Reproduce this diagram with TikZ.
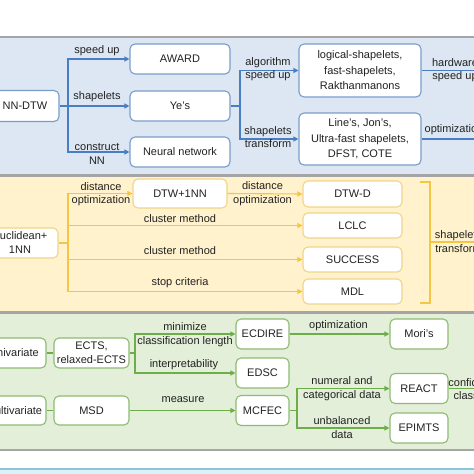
\documentclass[tikz,border=0pt]{standalone}
\usepackage{fontspec}
\setmainfont{Liberation Sans}
\usetikzlibrary{arrows.meta}
\definecolor{bluefill}{HTML}{DCE7F3}
\definecolor{blueline}{HTML}{4A7EC2}
\definecolor{bluebox}{HTML}{7A9CCB}
\definecolor{yellowfill}{HTML}{FFF2CC}
\definecolor{yellowline}{HTML}{F3C646}
\definecolor{yellowbox}{HTML}{F0D488}
\definecolor{greenfill}{HTML}{E3EFD9}
\definecolor{greenline}{HTML}{6DAE4A}
\definecolor{greenbox}{HTML}{8DBB72}
\definecolor{panelgray}{HTML}{A5A5A5}
\definecolor{stripfill}{HTML}{DDF2F8}
\definecolor{stripline}{HTML}{8CC6D6}
\definecolor{textc}{HTML}{222222}
\begin{document}
\begin{tikzpicture}[x=1pt,y=-1pt,
  box/.style={draw, fill=white, rounded corners=5pt, line width=1.1pt, align=center, inner sep=1pt, font=\fontsize{11}{15.5}\selectfont, text=textc},
  bbox/.style={box, draw=bluebox},
  ybox/.style={box, draw=yellowbox},
  gbox/.style={box, draw=greenbox},
  lbl/.style={align=center, inner sep=0pt, font=\fontsize{11}{13.5}\selectfont, text=textc},
  tip/.style={-{Triangle[length=5pt,width=5pt]}},
  bln/.style={draw=blueline, line width=1.1pt},
  yln/.style={draw=yellowline, line width=1.1pt},
  gln/.style={draw=greenline, line width=1.1pt},
  panel/.style={draw=panelgray, line width=1.2pt}
]
\useasboundingbox (0,0) rectangle (474,474);
\clip (0,0) rectangle (474,474);
\fill[white] (0,0) rectangle (474,474);

% panels
\path[panel, fill=bluefill] (-10,37) rectangle (484,175);
\path[panel, fill=yellowfill] (-10,176) rectangle (484,312);
\path[panel, fill=greenfill] (-10,313) rectangle (484,450);
\path[draw=stripline, line width=1.2pt, fill=stripfill] (-10,469) rectangle (484,490);

% ---------- blue panel ----------
\node[bbox, minimum width=68pt, minimum height=31pt] (nndtw) at (25,106) {NN-DTW};
\node[bbox, minimum width=100pt, minimum height=30pt] (award) at (180,59) {AWARD};
\node[bbox, minimum width=100pt, minimum height=30pt] (yes) at (180,106) {Ye's};
\node[bbox, minimum width=100pt, minimum height=30pt] (nn) at (180,152) {Neural network};
\node[bbox, minimum width=122pt, minimum height=53pt] (logical) at (360,70.5) {logical-shapelets,\\fast-shapelets,\\Rakthanmanons};
\node[bbox, minimum width=122pt, minimum height=52pt] (lines) at (360,139) {Line's, Jon's,\\Ultra-fast shapelets,\\DFST, COTE};
\coordinate (b1) at (68,106);
\coordinate (b2) at (240,106);
\coordinate (hw) at (484,70.5);
\coordinate (op) at (484,139);
\draw[bln] (nndtw.east) -- (b1);
\draw[bln, tip] (b1) |- (award.west);
\draw[bln, tip] (b1) -- (yes.west);
\draw[bln, tip] (b1) |- (nn.west);
\draw[bln] (yes.east) -- (b2);
\draw[bln, tip] (b2) |- (logical.west);
\draw[bln, tip] (b2) |- (lines.west);
\draw[bln] (logical.east) -- (hw);
\draw[bln] (lines.east) -- (op);
\node[lbl] (l1) at (97,51) {speed up};
\node[lbl] (l2) at (97,97) {shapelets};
\node[lbl] (l3) at (97,154) {construct\\NN};
\node[lbl] (l4) at (268,69) {algorithm\\speed up};
\node[lbl] (l5) at (268,137) {shapelets\\transform};
\node[lbl] (l6) at (455,70) {hardware\\speed up};
\node[lbl] (l7) at (454,130) {optimization};

% ---------- yellow panel ----------
\node[ybox, minimum width=76pt, minimum height=30pt] (eucl) at (20,243) {Euclidean+\\[-1.5pt]1NN};
\node[ybox, minimum width=94pt, minimum height=29pt] (dtw1nn) at (180,193.5) {DTW+1NN};
\node[ybox, minimum width=99pt, minimum height=26pt] (dtwd) at (352.5,194) {DTW-D};
\node[ybox, minimum width=99pt, minimum height=25pt] (lclc) at (352.5,225.5) {LCLC};
\node[ybox, minimum width=99pt, minimum height=25pt] (success) at (352.5,259.5) {SUCCESS};
\node[ybox, minimum width=99pt, minimum height=25pt] (mdl) at (352.5,291.5) {MDL};
\coordinate (y1) at (68,243);
\draw[yln] (eucl.east) -- (y1);
\draw[yln, tip] (y1) |- (dtw1nn.west);
\draw[yln, tip] (y1) |- (lclc.west);
\draw[yln, tip] (y1) |- (success.west);
\draw[yln, tip] (y1) |- (mdl.west);
\draw[yln, tip] (dtw1nn.east) -- (dtwd.west);
\coordinate (bt) at (420,182);
\coordinate (bb) at (420,303);
\coordinate (bm) at (430,242);
\coordinate (be) at (484,242);
\draw[yln] (bt) -- (430,182) -- (430,303) -- (bb);
\draw[yln] (bm) -- (be);
\node[lbl] (m1) at (101,194) {distance\\optimization};
\node[lbl] (m2) at (262.5,193.5) {distance\\optimization};
\node[lbl] (m3) at (180,219) {cluster method};
\node[lbl] (m4) at (180,251) {cluster method};
\node[lbl] (m5) at (180,283) {stop criteria};
\node[lbl] (m6) at (458.5,241.5) {shapelets\\transform};

% ---------- green panel ----------
\node[gbox, minimum width=64pt, minimum height=30pt] (univ) at (14,353) {Univariate};
\node[gbox, minimum width=75pt, minimum height=30pt] (ects) at (91.5,353) {ECTS,\\[-1.5pt]relaxed-ECTS};
\node[gbox, minimum width=64pt, minimum height=29pt] (multi) at (14,410.5) {Multivariate};
\node[gbox, minimum width=75pt, minimum height=29pt] (msd) at (91.5,410.5) {MSD};
\node[gbox, minimum width=53pt, minimum height=30pt] (ecdire) at (262.5,334) {ECDIRE};
\node[gbox, minimum width=53pt, minimum height=30pt] (edsc) at (262.5,373) {EDSC};
\node[gbox, minimum width=53pt, minimum height=30pt] (mcfec) at (262.5,410.5) {MCFEC};
\node[gbox, minimum width=58pt, minimum height=30pt] (moris) at (419,334) {Mori's};
\node[gbox, minimum width=58pt, minimum height=30pt] (react) at (419,388.5) {REACT};
\node[gbox, minimum width=58pt, minimum height=30pt] (epimts) at (419,428) {EPIMTS};
\coordinate (g1) at (135,353);
\coordinate (g2) at (297,410.5);
\coordinate (ge) at (484,388.5);
\draw[gln] (univ.east) -- (ects.west);
\draw[gln] (multi.east) -- (msd.west);
\draw[gln] (ects.east) -- (g1);
\draw[gln, tip] (g1) |- (ecdire.west);
\draw[gln, tip] (g1) |- (edsc.west);
\draw[gln, tip] (msd.east) -- (mcfec.west);
\draw[gln, tip] (ecdire.east) -- (moris.west);
\draw[gln] (mcfec.east) -- (g2);
\draw[gln, tip] (g2) |- (react.west);
\draw[gln, tip] (g2) |- (epimts.west);
\draw[gln] (react.east) -- (ge);
\node[lbl] (n1) at (185,334.5) {minimize\\classification length};
\node[lbl] (n2) at (184,365) {interpretability};
\node[lbl] (n3) at (183,400) {measure};
\node[lbl] (n4) at (338.5,326) {optimization};
\node[lbl] (n5) at (342,388.5) {numeral and\\categorical data};
\node[lbl] (n6) at (342,427.5) {unbalanced\\data};
\node[lbl] (n7) at (475,389) {confidence\\classifier};
\end{tikzpicture}
\end{document}
